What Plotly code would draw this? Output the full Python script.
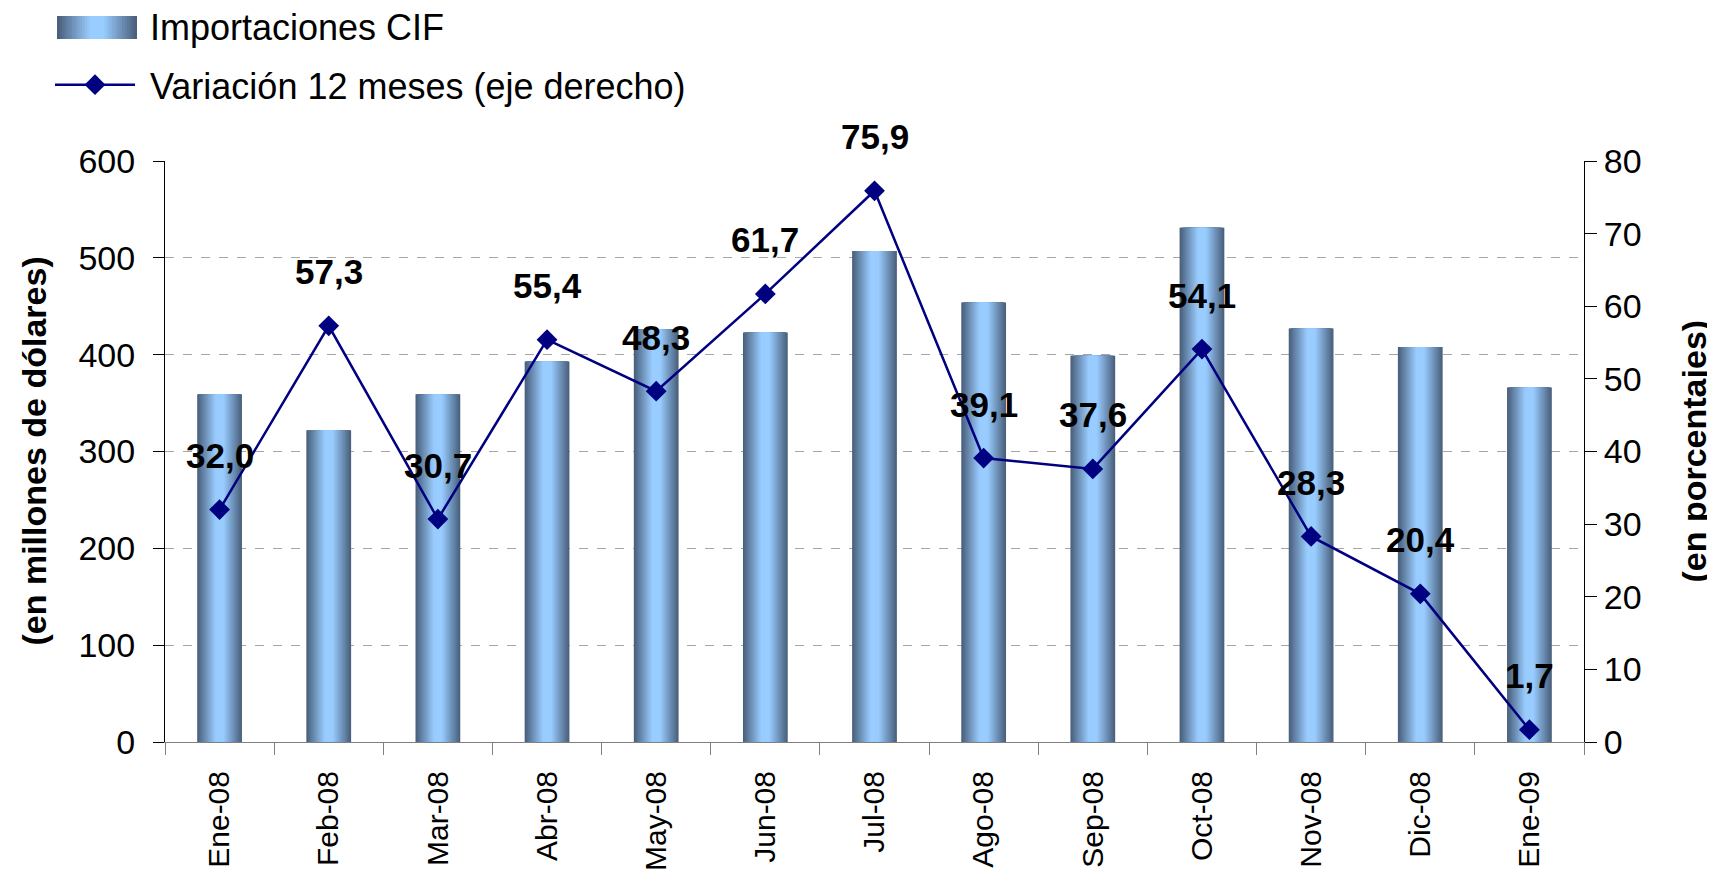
import plotly.graph_objects as go

# ---------------- data ----------------
months = ["Ene-08", "Feb-08", "Mar-08", "Abr-08", "May-08", "Jun-08", "Jul-08",
          "Ago-08", "Sep-08", "Oct-08", "Nov-08", "Dic-08", "Ene-09"]
importaciones = [359, 322, 359, 393, 426, 423, 507, 454, 399, 531, 427, 408, 366]
variacion = [32.0, 57.3, 30.7, 55.4, 48.3, 61.7, 75.9, 39.1, 37.6, 54.1, 28.3, 20.4, 1.7]
var_labels = ["32,0", "57,3", "30,7", "55,4", "48,3", "61,7", "75,9",
              "39,1", "37,6", "54,1", "28,3", "20,4", "1,7"]
left_ticks = [0, 100, 200, 300, 400, 500, 600]
right_ticks = [0, 10, 20, 30, 40, 50, 60, 70, 80]

# ---------------- style ----------------
FONT = "Liberation Sans, Arial, sans-serif"
W, H = 1707, 881          # page has an 8px body margin
ML, MR, MT, MB = 157, 131, 153, 147
BAR_W = 0.41
N_LAYERS = 22
DARK = (74, 96, 124)
LIGHT = (153, 204, 255)

plot_w = W - ML - MR
plot_h = H - MT - MB


def px_x(p):
    return (p - ML) / plot_w


def px_y(p):
    return (H - MB - p) / plot_h


def mix(t):
    r = [round(LIGHT[i] + (DARK[i] - LIGHT[i]) * t) for i in range(3)]
    return f"rgb({r[0]},{r[1]},{r[2]})"


def shade(frac):
    return max(0.0, (frac - 0.2) / 0.8)


fig = go.Figure()

# gradient bars: overlaid layers of decreasing width
for k in range(N_LAYERS):
    frac = 1 - k / N_LAYERS
    fig.add_trace(go.Bar(
        x=months, y=importaciones, width=BAR_W * frac,
        marker=dict(color=mix(shade(frac)), line=dict(width=0)),
        name="Importaciones CIF",
        showlegend=False,
        hoverinfo="skip" if k else "x+y",
        yaxis="y",
    ))

# legend entry for the bars (icon drawn separately as a gradient box)
fig.add_trace(go.Bar(
    x=[months[0]], y=[0], name="\u00a0Importaciones CIF",
    marker=dict(color="rgba(0,0,0,0)", line=dict(width=0)),
    legendgroup="bars", showlegend=True, hoverinfo="skip", yaxis="y",
))

fig.add_trace(go.Scatter(
    x=months, y=variacion, mode="lines+markers",
    name="\u00a0Variación 12 meses (eje derecho)",
    legendgroup="line",
    line=dict(color="#000080", width=2.5),
    marker=dict(symbol="diamond", size=16, color="#000080"),
    yaxis="y2",
))

annotations = []
for m, v, lab in zip(months, variacion, var_labels):
    annotations.append(dict(
        x=m, y=v, xref="x", yref="y2", text=lab, showarrow=False,
        yshift=54, font=dict(family=FONT, size=35, color="black", weight="bold"),
    ))

# axis titles
annotations.append(dict(
    text="(en millones de dólares)", xref="paper", yref="paper",
    x=px_x(25), y=0.5, textangle=-90, showarrow=False,
    xanchor="center", yanchor="middle",
    font=dict(family=FONT, size=34, color="black", weight="bold"),
))
annotations.append(dict(
    text="(en porcentajes)", xref="paper", yref="paper",
    x=px_x(1685), y=0.5, textangle=-90, showarrow=False,
    xanchor="center", yanchor="middle",
    font=dict(family=FONT, size=34, color="black", weight="bold"),
))

# gradient legend icon
shapes = []
icon_x0, icon_x1, icon_y0, icon_y1 = 49, 129, 8, 31
cx = (icon_x0 + icon_x1) / 2
half = (icon_x1 - icon_x0) / 2
NL = 16
for k in range(NL):
    frac = 1 - k / NL
    shapes.append(dict(
        type="rect", xref="paper", yref="paper", layer="above",
        x0=px_x(cx - half * frac), x1=px_x(cx + half * frac),
        y0=px_y(icon_y1), y1=px_y(icon_y0),
        fillcolor=mix(shade(frac)), line=dict(width=0),
    ))

fig.update_layout(
    width=W, height=H,
    margin=dict(l=ML, r=MR, t=MT, b=MB, autoexpand=False),
    paper_bgcolor="white", plot_bgcolor="white",
    barmode="overlay",
    font=dict(family=FONT, color="black"),
    showlegend=True,
    legend=dict(
        xref="paper", yref="paper", x=px_x(42), y=px_y(-12),
        xanchor="left", yanchor="top",
        font=dict(family=FONT, size=36, color="black"),
        itemwidth=80, tracegroupgap=9, traceorder="grouped",
        bgcolor="rgba(0,0,0,0)",
    ),
    annotations=annotations,
    shapes=shapes,
    xaxis=dict(
        type="category", range=[-0.5, 12.5],
        tickson="boundaries", ticks="outside", ticklen=12, tickcolor="#808080",
        showline=True, linecolor="#808080", linewidth=1,
        tickangle=-90, tickfont=dict(family=FONT, size=30, color="black"),
        ticklabelstandoff=16, showgrid=False, zeroline=False,
    ),
    yaxis=dict(
        range=[0, 600], tickvals=left_ticks, ticks="outside", ticklen=11,
        tickcolor="black", showline=True, linecolor="black", linewidth=1,
        showgrid=True, gridcolor="#a6a6a6", griddash="dash", gridwidth=1,
        zeroline=False, tickfont=dict(family=FONT, size=34, color="black"),
        ticklabelstandoff=11,
    ),
    yaxis2=dict(
        overlaying="y", side="right", anchor="x",
        range=[0, 80], tickvals=right_ticks, ticks="outside", ticklen=12,
        tickcolor="black", showline=True, linecolor="black", linewidth=1,
        showgrid=False, zeroline=False,
        tickfont=dict(family=FONT, size=34, color="black"),
    ),
    yaxis3=dict(
        overlaying="y", side="right", anchor="x",
        range=[0, 80], tickvals=right_ticks, ticks="inside", ticklen=12,
        tickcolor="black", showticklabels=False, showline=False,
        showgrid=False, zeroline=False,
    ),
)

fig.write_html("out.html")
